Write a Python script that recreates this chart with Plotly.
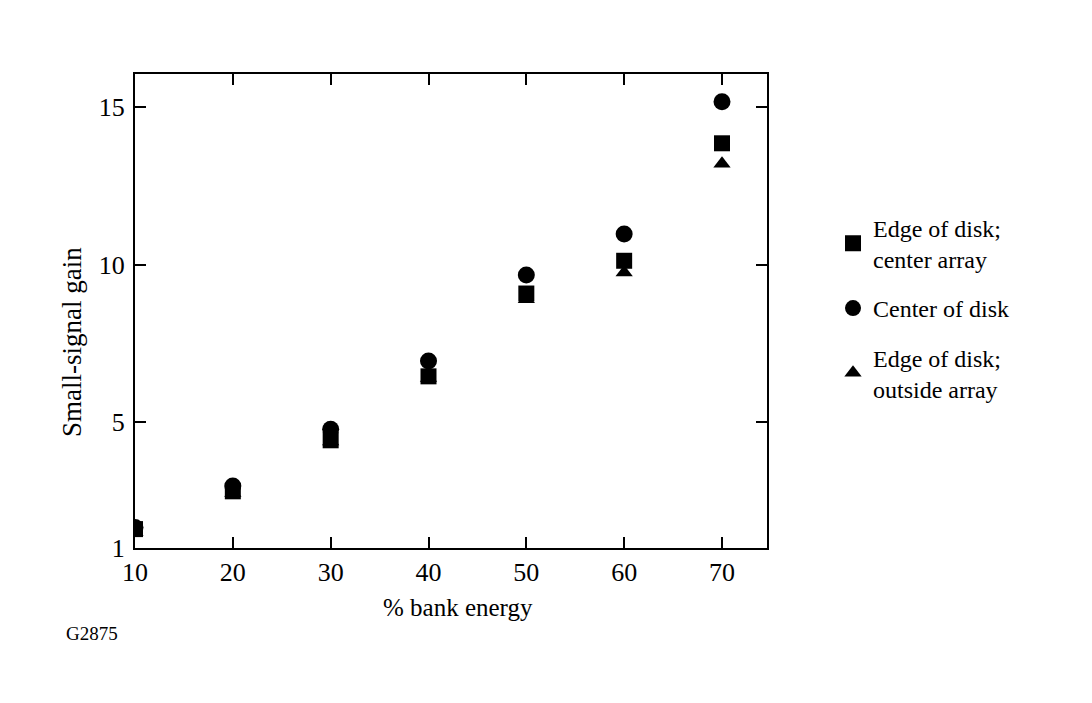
import plotly.graph_objects as go

# Data
bank_energy = [10, 20, 30, 40, 50, 60, 70]
edge_center_array = [1.6, 2.8, 4.42, 6.45, 9.08, 10.12, 13.85]
center_of_disk = [1.65, 2.97, 4.77, 6.94, 9.67, 10.97, 15.17]
edge_outside_array = [1.5, 2.75, 4.38, 6.4, 8.9, 9.75, 13.2]

x_ticks = [10, 20, 30, 40, 50, 60, 70]
y_ticks = [1, 5, 10, 15]

names = ["Edge of disk;<br>center array", "Center of disk", "Edge of disk;<br>outside array"]

FONT = "Liberation Serif, Times New Roman, serif"

fig = go.Figure()

# draw order: circle, triangle, square (square on top); legend order via legendrank
fig.add_trace(go.Scatter(
    x=bank_energy, y=center_of_disk, mode="markers", name=names[1],
    marker=dict(symbol="circle", size=17, color="black"),
    legendrank=2, legendgroup="b",
))
fig.add_trace(go.Scatter(
    x=bank_energy, y=edge_outside_array, mode="markers", name=names[2],
    marker=dict(symbol="triangle-up", size=15, color="black"),
    legendrank=3, legendgroup="c",
))
fig.add_trace(go.Scatter(
    x=bank_energy, y=edge_center_array, mode="markers", name=names[0],
    marker=dict(symbol="square", size=16, color="black"),
    legendrank=1, legendgroup="a",
))

fig.update_layout(
    width=1092, height=703,
    margin=dict(l=127, r=333, t=66, b=163),
    paper_bgcolor="white", plot_bgcolor="white",
    font=dict(family=FONT, size=24, color="black"),
    showlegend=True,
    legend=dict(
        xref="container", yref="container",
        x=0.7555, y=0.719, xanchor="left", yanchor="top",
        font=dict(family=FONT, size=24, color="black"),
        tracegroupgap=15, itemwidth=30,
        bgcolor="rgba(0,0,0,0)",
    ),
    annotations=[
        dict(
            text="G2875", xref="paper", yref="paper",
            x=(64 - 135) / 632, y=(548 - 633) / 474, xanchor="left", yanchor="middle",
            showarrow=False, font=dict(family=FONT, size=19, color="black"),
        ),
        dict(
            text="% bank energy", xref="paper", yref="paper",
            x=(458 - 135) / 632, y=(548 - 607) / 474, xanchor="center", yanchor="middle",
            showarrow=False, font=dict(family=FONT, size=25, color="black"),
        ),
        dict(
            text="Small-signal gain", xref="paper", yref="paper", textangle=-90,
            x=(72 - 135) / 632, y=(548 - 342) / 474, xanchor="center", yanchor="middle",
            showarrow=False, font=dict(family=FONT, size=27, color="black"),
        ),
    ],
)

fig.update_xaxes(
    range=[10, 74.6], tickvals=x_ticks, ticktext=[str(v) for v in x_ticks],
    ticks="inside", ticklen=11, tickwidth=1.5, tickcolor="black",
    showline=True, linewidth=2, linecolor="black", mirror="ticks",
    showgrid=False, zeroline=False,
    tickfont=dict(family=FONT, size=26),
)
fig.update_yaxes(
    range=[1, 16.05], tickvals=y_ticks, ticktext=[str(v) for v in y_ticks],
    ticks="inside", ticklen=11, tickwidth=1.5, tickcolor="black",
    showline=True, linewidth=2, linecolor="black", mirror="ticks",
    showgrid=False, zeroline=False, ticklabelstandoff=3,
    tickfont=dict(family=FONT, size=26),
)

fig.write_html("out.html")
